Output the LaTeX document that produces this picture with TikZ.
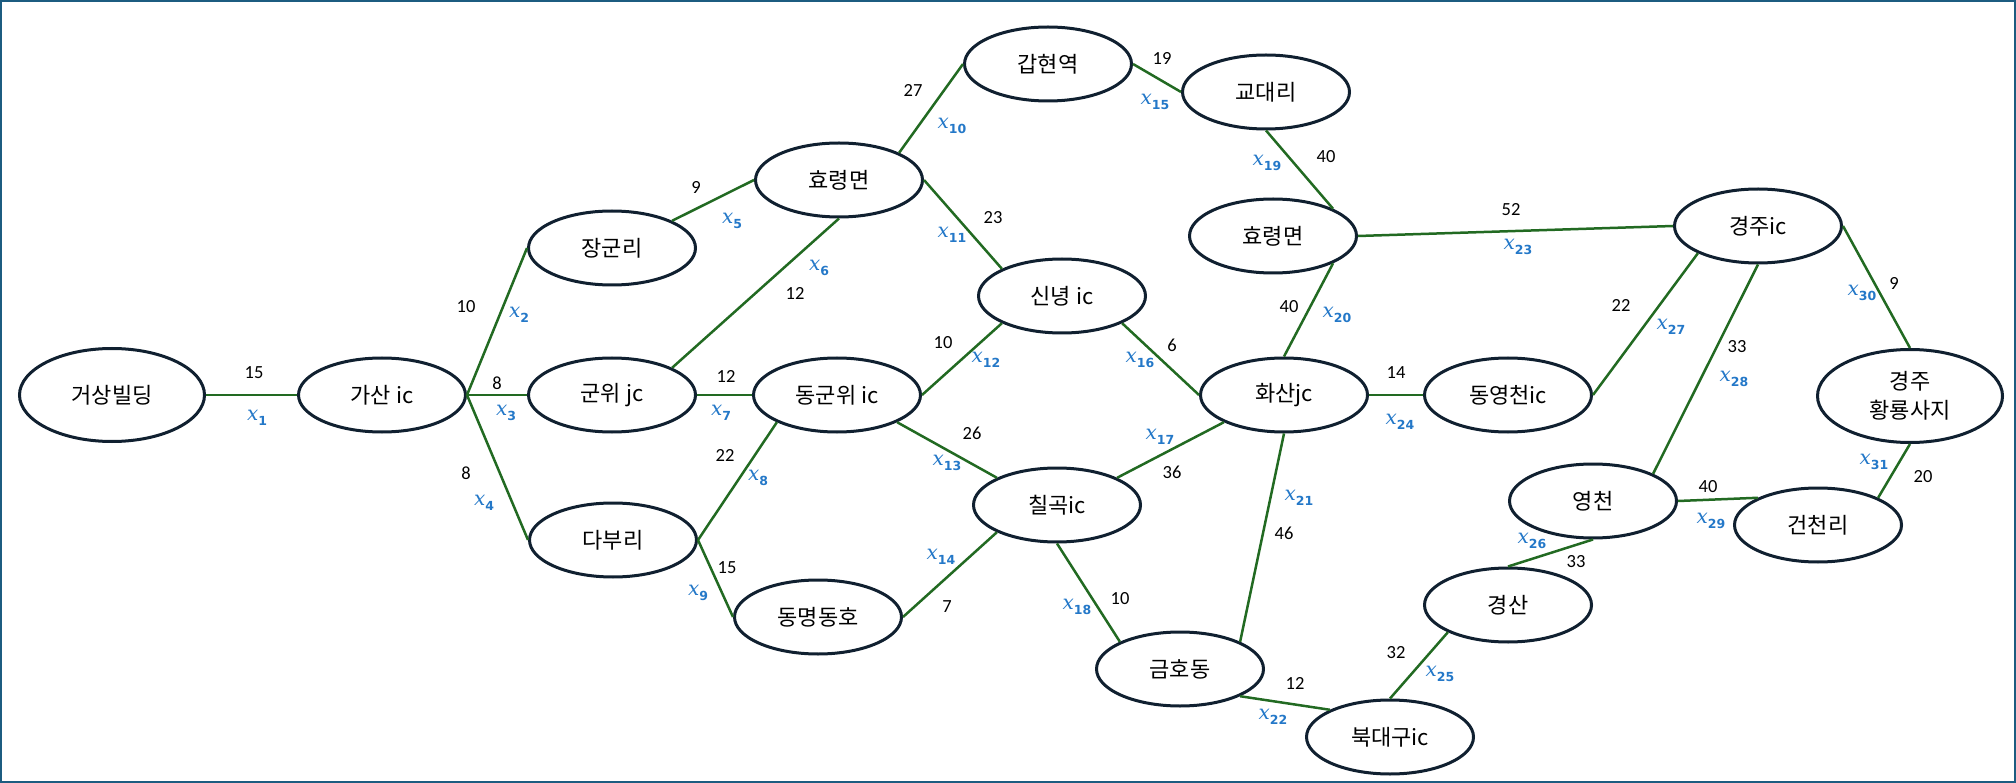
\documentclass[tikz,border=0pt]{standalone}
\usepackage{fontspec}
\setmainfont{Carlito}
\newfontfamily\krfont{Noto Sans CJK KR}
\newfontfamily\serifx{DejaVu Serif}
\newfontfamily\subdigits{DejaVu Sans}
\usetikzlibrary{shapes.geometric}
\definecolor{roadgreen}{RGB}{34,106,34}
\definecolor{ringnavy}{RGB}{16,32,48}
\definecolor{varblue}{RGB}{36,120,200}
\definecolor{framecol}{RGB}{28,92,128}
\newcommand\xvar[1]{{\serifx\itshape\fontsize{20}{20}\selectfont x}\raisebox{-5pt}{\subdigits\bfseries\fontsize{12.5}{14}\selectfont #1}}

\begin{document}
\begin{tikzpicture}[x=1pt, y=-1pt,
  place/.style={ellipse, draw=ringnavy, line width=3pt, minimum width=167pt, minimum height=74pt, inner sep=0pt, align=center, font=\krfont\fontsize{22}{29}\selectfont},
  bigplace/.style={place, minimum width=185pt, minimum height=93pt},
  road/.style={draw=roadgreen, line width=2.5pt},
  dist/.style={inner sep=0pt, font=\fontsize{18.5}{20}\selectfont},
  var/.style={inner sep=0pt, text=varblue}]
\useasboundingbox (0,0) rectangle (2016,783);
\draw[framecol, line width=2pt] (1,1) rectangle (2015,782);

\node[bigplace] (geosang) at (112,395) {거상빌딩};
\node[place] (gasan) at (382,395) {가산 ic};
\node[place] (janggun) at (612,248) {장군리};
\node[place] (gunwi) at (612,395) {군위 jc};
\node[place] (dabu) at (613,540) {다부리};
\node[place] (hyoL) at (839,180) {효령면};
\node[place] (donggunwi) at (837,395) {동군위 ic};
\node[place] (dongmyeong) at (818,617) {동명동호};
\node[place] (gaphyeon) at (1048,64) {갑현역};
\node[place] (sinnyeong) at (1062,296) {신녕 ic};
\node[place] (chilgok) at (1057,505) {칠곡ic};
\node[place] (gyodae) at (1266,92) {교대리};
\node[place] (hyoR) at (1273,236) {효령면};
\node[place] (hwasan) at (1284,395) {화산jc};
\node[place] (geumho) at (1180,669) {금호동};
\node[place] (dongyeong) at (1508,395) {동영천ic};
\node[place] (bukdaegu) at (1390,737) {북대구ic};
\node[place] (gyeongsan) at (1508,605) {경산};
\node[place] (yeongcheon) at (1593,501) {영천};
\node[place] (geoncheon) at (1818,525) {건천리};
\node[place] (gyeongju) at (1758,226) {경주ic};
\node[bigplace] (hwangnyong) at (1910,396) {경주\\황룡사지};

\draw[road] (geosang.east) -- (gasan.west);
\draw[road] (gasan.east) -- (janggun.west);
\draw[road] (gasan.east) -- (gunwi.west);
\draw[road] (gasan.east) -- (dabu.west);
\draw[road] (janggun.north east) -- (hyoL.west);
\draw[road] (hyoL.south) -- (gunwi.north east);
\draw[road] (gunwi.east) -- (donggunwi.west);
\draw[road] (donggunwi.south west) -- (dabu.east);
\draw[road] (dabu.east) -- (dongmyeong.west);
\draw[road] (hyoL.north east) -- (gaphyeon.west);
\draw[road] (hyoL.east) -- (sinnyeong.north west);
\draw[road] (donggunwi.east) -- (sinnyeong.south west);
\draw[road] (donggunwi.south east) -- (chilgok.north west);
\draw[road] (dongmyeong.east) -- (chilgok.south west);
\draw[road] (gaphyeon.east) -- (gyodae.west);
\draw[road] (sinnyeong.south east) -- (hwasan.west);
\draw[road] (chilgok.north east) -- (hwasan.south west);
\draw[road] (chilgok.south) -- (geumho.north west);
\draw[road] (gyodae.south) -- (hyoR.north east);
\draw[road] (hyoR.south east) -- (hwasan.north);
\draw[road] (hwasan.south) -- (geumho.north east);
\draw[road] (geumho.south east) -- (bukdaegu.north west);
\draw[road] (hyoR.east) -- (gyeongju.west);
\draw[road] (hwasan.east) -- (dongyeong.west);
\draw[road] (bukdaegu.north) -- (gyeongsan.south west);
\draw[road] (gyeongsan.north) -- (yeongcheon.south);
\draw[road] (dongyeong.east) -- (gyeongju.south west);
\draw[road] (yeongcheon.north east) -- (gyeongju.south);
\draw[road] (yeongcheon.east) -- (geoncheon.north west);
\draw[road] (gyeongju.east) -- (hwangnyong.north);
\draw[road] (hwangnyong.south) -- (geoncheon.north east);

\node[dist] (w1) at (254,373) {15};
\node[dist] (w2) at (466,307) {10};
\node[dist] (w3) at (497,383) {8};
\node[dist] (w4) at (466,473) {8};
\node[dist] (w5) at (696,188) {9};
\node[dist] (w6) at (795,293) {12};
\node[dist] (w7) at (726,376) {12};
\node[dist] (w8) at (725,455) {22};
\node[dist] (w9) at (727,568) {15};
\node[dist] (w10) at (913,91) {27};
\node[dist] (w11) at (993,218) {23};
\node[dist] (w12) at (943,343) {10};
\node[dist] (w13) at (972,433) {26};
\node[dist] (w14) at (947,607) {7};
\node[dist] (w15) at (1162,59) {19};
\node[dist] (w16) at (1172,345) {6};
\node[dist] (w17) at (1172,472) {36};
\node[dist] (w18) at (1120,599) {10};
\node[dist] (w19) at (1326,157) {40};
\node[dist] (w20) at (1289,307) {40};
\node[dist] (w21) at (1284,533) {46};
\node[dist] (w22) at (1295,683) {12};
\node[dist] (w23) at (1511,210) {52};
\node[dist] (w24) at (1396,373) {14};
\node[dist] (w25) at (1396,653) {32};
\node[dist] (w26) at (1576,562) {33};
\node[dist] (w27) at (1621,305) {22};
\node[dist] (w28) at (1737,347) {33};
\node[dist] (w29) at (1708,487) {40};
\node[dist] (w30) at (1894,283) {9};
\node[dist] (w31) at (1923,477) {20};

\node[var] (x1) at (257,418) {\xvar{1}};
\node[var] (x2) at (519,315) {\xvar{2}};
\node[var] (x3) at (506,413) {\xvar{3}};
\node[var] (x4) at (484,503) {\xvar{4}};
\node[var] (x5) at (732,221) {\xvar{5}};
\node[var] (x6) at (819,268) {\xvar{6}};
\node[var] (x7) at (721,413) {\xvar{7}};
\node[var] (x8) at (758,478) {\xvar{8}};
\node[var] (x9) at (698,593) {\xvar{9}};
\node[var] (x10) at (952,126) {\xvar{10}};
\node[var] (x11) at (952,235) {\xvar{11}};
\node[var] (x12) at (986,360) {\xvar{12}};
\node[var] (x13) at (947,463) {\xvar{13}};
\node[var] (x14) at (941,557) {\xvar{14}};
\node[var] (x15) at (1155,102) {\xvar{15}};
\node[var] (x16) at (1140,360) {\xvar{16}};
\node[var] (x17) at (1160,437) {\xvar{17}};
\node[var] (x18) at (1077,607) {\xvar{18}};
\node[var] (x19) at (1267,163) {\xvar{19}};
\node[var] (x20) at (1337,315) {\xvar{20}};
\node[var] (x21) at (1299,498) {\xvar{21}};
\node[var] (x22) at (1273,717) {\xvar{22}};
\node[var] (x23) at (1518,247) {\xvar{23}};
\node[var] (x24) at (1400,422) {\xvar{24}};
\node[var] (x25) at (1440,674) {\xvar{25}};
\node[var] (x26) at (1532,541) {\xvar{26}};
\node[var] (x27) at (1671,327) {\xvar{27}};
\node[var] (x28) at (1734,379) {\xvar{28}};
\node[var] (x29) at (1711,521) {\xvar{29}};
\node[var] (x30) at (1862,293) {\xvar{30}};
\node[var] (x31) at (1874,462) {\xvar{31}};
\end{tikzpicture}
\end{document}
